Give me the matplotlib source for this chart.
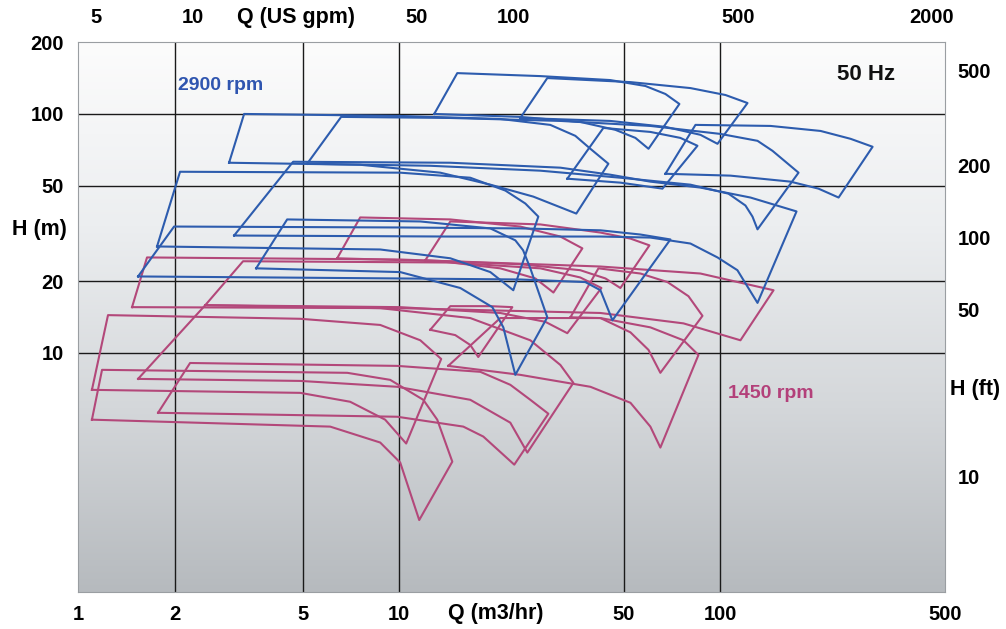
import numpy as np
import matplotlib
matplotlib.use('Agg')
import matplotlib.pyplot as plt
from matplotlib.ticker import FixedLocator, NullLocator, FuncFormatter
from matplotlib.colors import LinearSegmentedColormap

plt.rcParams['font.family'] = ['Liberation Sans', 'DejaVu Sans']
plt.rcParams['font.weight'] = 'bold'

# ---------------- axis ticks ----------------
q_ticks = [1, 2, 5, 10, 50, 100, 500]          # Q (m3/hr)
h_ticks = [10, 20, 50, 100, 200]               # H (m)
gpm_ticks = [5, 10, 50, 100, 500, 2000]        # Q (US gpm)
ft_ticks = [10, 50, 100, 200, 500]             # H (ft)
grid_q = [2, 5, 10, 50, 100]
grid_h = [10, 20, 50, 100]

# ---------------- 2900 rpm tiles: (Q m3/h, H m) ----------------
# top = max-impeller curve (left -> right), bot = min-impeller curve (left -> right)
B1_TOP = [(15.16, 148.2), (27.49, 144.0), (45.4, 138.6), (58.4, 130.9), (67.4, 121.2), (74.5, 110.1)]
B1_BOT = [(12.85, 100.0), (23.82, 97.2), (36.6, 92.6), (47.1, 85.8), (54.35, 79.4), (59.7, 71.5)]
B2_TOP = [(28.9, 141.3), (52.45, 135.9), (80.64, 128.3), (103.7, 120.0), (121.4, 111.1)]
B2_BOT = [(23.82, 96.2), (45.4, 93.5), (67.4, 88.3), (86.6, 81.8), (97.9, 75.0)]
B3_TOP = [(83.6, 90.0), (143.2, 89.1), (204.9, 84.9), (254.1, 78.7), (297.6, 72.9)]
B3_BOT = [(67.4, 56.2), (107.4, 55.2), (165.2, 52.1), (201.9, 48.7), (233.2, 44.7)]
B4_TOP = [(6.594, 97.2), (14.42, 96.2), (31.74, 93.5), (60.5, 89.1), (100.0, 82.5), (130.4, 77.2), (145.2, 70.1), (175.0, 56.8)]
B4_BOT = [(5.168, 61.9), (12.49, 60.7), (27.49, 57.9), (48.8, 54.1), (80.64, 50.6), (105.9, 46.4), (119.6, 41.4), (125.8, 37.2), (130.4, 32.9)]
B5_TOP = [(43.2, 87.4), (60.5, 84.1), (75.0, 79.4), (84.8, 73.6)]
B5_BOT = [(33.36, 53.6), (48.8, 51.6), (65.97, 48.7)]
B6_TOP = [(3.289, 100.0), (10.07, 98.1), (20.63, 95.3), (29.53, 90.0), (35.33, 81.0), (39.36, 71.5), (44.78, 61.9)]
B6_BOT = [(2.953, 62.5), (7.558, 61.3), (13.42, 56.8), (19.21, 50.6), (26.14, 45.1), (35.58, 38.3)]
B7_TOP = [(4.674, 63.1), (14.42, 62.5), (31.74, 59.6), (45.4, 55.7), (60.5, 52.1), (86.6, 49.2), (124.0, 44.7), (172.5, 39.1)]
B7_BOT = [(3.062, 31.0), (14.42, 30.7), (42.3, 30.7), (60.5, 30.4), (80.64, 28.7), (97.9, 25.1), (112.9, 22.2), (130.4, 16.2)]
B8_TOP = [(2.078, 57.3), (10.07, 56.8), (16.64, 54.1), (21.4, 47.8), (24.69, 42.2), (27.1, 37.2)]
B8_BOT = [(1.762, 27.9), (8.726, 27.1), (14.42, 24.9), (19.21, 21.8), (22.65, 18.3)]
B9_TOP = [(1.991, 33.8), (10.07, 33.5), (23.82, 33.2), (42.3, 32.6), (56.34, 31.3), (69.85, 29.85)]
B9_BOT = [(1.538, 20.9), (10.07, 20.5), (23.82, 20.3), (37.96, 19.8), (42.3, 18.3), (46.1, 13.7)]
B10_TOP = [(4.478, 36.2), (11.63, 35.5), (19.21, 33.2), (22.98, 29.6), (24.3, 26.9), (25.59, 22.6), (28.9, 14.1)]
B10_BOT = [(3.585, 22.6), (10.07, 21.8), (15.49, 18.7), (19.49, 15.55), (21.09, 12.8), (22.98, 8.10)]

# ---------------- 1450 rpm tiles ----------------
P1_TOP = [(1.640, 25.1), (10.07, 24.6), (42.3, 23.0), (86.6, 21.5), (146.3, 18.3)]
P1_BOT = [(1.473, 15.55), (10.07, 15.4), (42.3, 14.7), (76.7, 13.3), (115.4, 11.3)]
P2_TOP = [(3.265, 24.2), (14.42, 23.9), (27.49, 22.6), (36.6, 20.7), (42.6, 18.7)]
P2_BOT = [(2.49, 15.85), (10.07, 15.55), (20.63, 14.7), (28.5, 13.5), (33.36, 12.1)]
P3_TOP = [(2.49, 15.85), (8.726, 15.4), (16.64, 14.0), (25.59, 11.3), (31.74, 8.91), (34.84, 7.50)]
P3_BOT = [(1.538, 7.79), (4.917, 7.64), (9.858, 7.22), (16.64, 6.37), (22.17, 5.11), (25.05, 3.83)]
P4_TOP = [(1.240, 14.4), (4.917, 13.9), (8.726, 13.1), (11.63, 11.3), (13.51, 9.44)]
P4_BOT = [(1.105, 7.01), (4.917, 6.81), (7.035, 6.25), (9.04, 5.26), (10.51, 4.18)]
P5_TOP = [(1.188, 8.50), (6.89, 8.26), (9.37, 7.72), (11.88, 6.37), (13.13, 5.26), (14.63, 3.51)]
P5_BOT = [(1.105, 5.26), (6.095, 4.92), (8.726, 4.22), (10.07, 3.48), (11.54, 2.0)]
P6_TOP = [(2.233, 9.08), (9.858, 8.83), (17.88, 8.34), (22.17, 7.36), (25.59, 6.37), (29.12, 5.57)]
P6_BOT = [(1.775, 5.62), (9.858, 5.41), (15.83, 4.92), (18.27, 4.47), (22.81, 3.41)]
P7_TOP = [(7.558, 36.9), (14.42, 36.2), (23.82, 33.8), (31.74, 30.7), (37.16, 27.4)]
P7_BOT = [(6.41, 24.9), (13.42, 24.2), (20.63, 22.6), (26.53, 20.5), (30.2, 17.9)]
P8_TOP = [(14.42, 35.5), (27.49, 34.5), (42.3, 31.9), (52.45, 30.1), (60.1, 28.2)]
P8_BOT = [(12.05, 24.4), (23.82, 23.5), (36.6, 22.2), (43.85, 20.5), (48.8, 18.7)]
P9_TOP = [(41.7, 22.6), (56.34, 21.5), (68.4, 19.8), (79.5, 17.28), (87.9, 14.3)]
P9_BOT = [(34.11, 14.1), (42.3, 14.0), (52.45, 12.2), (59.7, 10.3), (65.0, 8.26)]
P10_TOP = [(20.63, 14.0), (42.3, 14.0), (60.5, 12.8), (76.7, 11.3), (85.4, 9.81)]
P10_BOT = [(14.21, 8.83), (23.82, 8.10), (39.36, 7.22), (52.45, 6.19), (60.5, 4.92), (65.0, 4.02)]
P11_TOP = [(14.42, 15.7), (19.21, 15.7), (22.49, 15.55)]
P11_BOT = [(12.49, 12.5), (14.94, 11.88), (16.64, 10.8), (17.62, 9.62)]

BLUE_TILES = [(B1_TOP, B1_BOT), (B2_TOP, B2_BOT), (B3_TOP, B3_BOT), (B4_TOP, B4_BOT),
              (B5_TOP, B5_BOT), (B6_TOP, B6_BOT), (B7_TOP, B7_BOT), (B8_TOP, B8_BOT),
              (B9_TOP, B9_BOT), (B10_TOP, B10_BOT)]
PINK_TILES = [(P1_TOP, P1_BOT), (P2_TOP, P2_BOT), (P3_TOP, P3_BOT), (P4_TOP, P4_BOT),
              (P5_TOP, P5_BOT), (P6_TOP, P6_BOT), (P7_TOP, P7_BOT), (P8_TOP, P8_BOT),
              (P9_TOP, P9_BOT), (P10_TOP, P10_BOT), (P11_TOP, P11_BOT)]

BLUE = '#2d5cae'
PINK = '#b3487a'

W, H = 1006, 629
fig = plt.figure(figsize=(W / 100, H / 100), dpi=100)
rect = [78 / W, (H - 592) / H, (945 - 78) / W, (592 - 42) / H]

# gradient background
bg = fig.add_axes(rect, zorder=0)
cmap = LinearSegmentedColormap.from_list('bg', ['#b6babe', '#d4d7da', '#eceef0', '#fcfcfc'])
grad = np.linspace(0, 1, 256).reshape(-1, 1)
bg.imshow(grad, aspect='auto', cmap=cmap, origin='lower', extent=[0, 1, 0, 1])
bg.set_axis_off()

ax = fig.add_axes(rect, zorder=1)
ax.patch.set_alpha(0)
ax.set_xscale('log')
ax.set_yscale('log')
ax.set_xlim(1, 500)
ax.set_ylim(1, 200)

for g in grid_q:
    ax.axvline(g, color='#1a1a1a', lw=1.0, zorder=1)
for g in grid_h:
    ax.axhline(g, color='#1a1a1a', lw=1.0, zorder=1)


def draw_tile(top, bot, color):
    pts = [bot[0]] + list(top) + list(bot[::-1])
    q = [p[0] for p in pts]
    h = [p[1] for p in pts]
    ax.plot(q, h, color=color, lw=1.5, solid_joinstyle='round', zorder=3)


for top, bot in PINK_TILES:
    draw_tile(top, bot, PINK)
for top, bot in BLUE_TILES:
    draw_tile(top, bot, BLUE)

TICK_FS = 14.5
fmt = FuncFormatter(lambda v, p: f'{v:g}')
ax.xaxis.set_major_locator(FixedLocator(q_ticks))
ax.xaxis.set_minor_locator(NullLocator())
ax.xaxis.set_major_formatter(fmt)
ax.yaxis.set_major_locator(FixedLocator(h_ticks))
ax.yaxis.set_minor_locator(NullLocator())
ax.yaxis.set_major_formatter(fmt)
ax.tick_params(axis='x', length=0, labelsize=TICK_FS, pad=9)
ax.tick_params(axis='y', length=0, labelsize=TICK_FS, pad=10)

top = ax.secondary_xaxis('top', functions=(lambda q: q * 4.40287, lambda g: g / 4.40287))
top.xaxis.set_major_locator(FixedLocator(gpm_ticks))
top.xaxis.set_minor_locator(NullLocator())
top.xaxis.set_major_formatter(fmt)
top.tick_params(length=0, labelsize=TICK_FS, pad=11)

right = ax.secondary_yaxis('right', functions=(lambda m: m * 3.28084, lambda f: f / 3.28084))
right.yaxis.set_major_locator(FixedLocator(ft_ticks))
right.yaxis.set_minor_locator(NullLocator())
right.yaxis.set_major_formatter(fmt)
right.tick_params(length=0, labelsize=TICK_FS, pad=9)

for a in (ax, top, right):
    for s in a.spines.values():
        s.set_visible(False)
for s in ('left', 'right', 'top', 'bottom'):
    ax.spines[s].set_visible(True)
    ax.spines[s].set_color('#9a9ea2')
    ax.spines[s].set_linewidth(0.8)

LAB_FS = 15.5
fig.text(237 / W, 1 - 18 / H, 'Q (US gpm)', fontsize=LAB_FS, ha='left', va='center')
fig.text(448 / W, 1 - 614 / H, 'Q (m3/hr)', fontsize=LAB_FS, ha='left', va='center')
fig.text(12 / W, 1 - 230 / H, 'H (m)', fontsize=LAB_FS, ha='left', va='center')
fig.text(950 / W, 1 - 390 / H, 'H (ft)', fontsize=LAB_FS, ha='left', va='center')
fig.text(178 / W, 1 - 85 / H, '2900 rpm', fontsize=14, ha='left', va='center', color='#2f55b0')
fig.text(728 / W, 1 - 393 / H, '1450 rpm', fontsize=14, ha='left', va='center', color='#b3407a')
fig.text(837 / W, 1 - 75 / H, '50 Hz', fontsize=16, ha='left', va='center', color='#111111')

fig.savefig('out.png', dpi=100)
